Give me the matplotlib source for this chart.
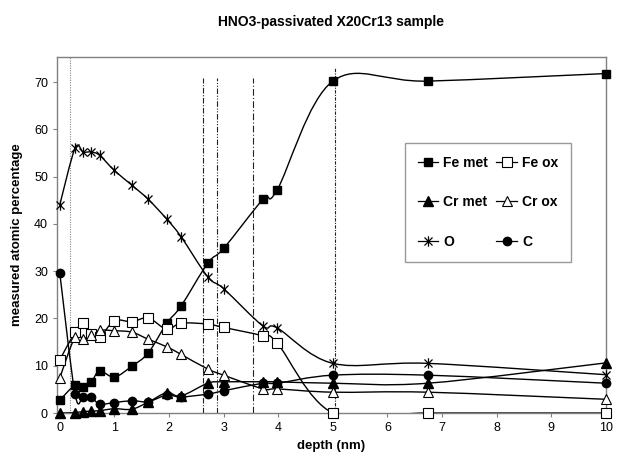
import numpy as np
import matplotlib
matplotlib.use("Agg")
import matplotlib.pyplot as plt
from matplotlib.path import Path
from matplotlib.patches import PathPatch
from matplotlib.lines import Line2D

plt.rcParams['font.family'] = ['Liberation Sans', 'DejaVu Sans']

# depth (nm) of the measurement points, shared by all series
depth = [0, 0.28, 0.43, 0.58, 0.73, 1.0, 1.32, 1.62, 1.96, 2.22, 2.71, 3.0,
         3.72, 3.98, 5.0, 6.74, 10]

fe_met = [2.7, 5.9, 5.5, 6.6, 8.9, 7.6, 9.9, 12.7, 19.0, 22.6, 31.7, 34.8,
          45.2, 47.2, 70.2, 70.2, 71.8]
fe_ox = [11.2, 17.1, 19.0, 16.8, 16.0, 19.5, 19.3, 20.1, 17.7, 19.0, 18.8, 18.1,
         16.3, 14.8, 0.0, 0.0, 0.0]
cr_met = [0.0, 0.1, 0.3, 0.4, 0.5, 0.9, 0.8, 2.3, 4.3, 3.6, 6.3, 6.6,
          6.6, 6.6, 6.3, 6.3, 10.6]
cr_ox = [7.4, 16.1, 15.7, 16.5, 17.5, 17.4, 17.1, 15.6, 14.0, 12.4, 9.3, 8.0,
         5.1, 5.1, 4.4, 4.4, 2.9]
oxygen = [44.0, 56.0, 55.2, 55.2, 54.5, 51.3, 48.2, 45.2, 41.0, 37.3, 28.8, 26.3,
          18.4, 18.0, 10.5, 10.5, 8.1]
carbon = [29.7, 4.0, 3.4, 3.3, 1.9, 2.2, 2.6, 2.4, 3.8, 3.4, 4.0, 4.7,
          6.3, 6.3, 8.0, 8.0, 6.3]

# vertical marker lines: position, top value, dash style
vlines = [(0.18, None, (0, (1, 1.2))),
          (2.62, 70.8, (0, (5, 1.5, 1, 1.5))),
          (2.87, 70.8, (0, (5, 1.5, 1, 1.5, 1, 1.5))),
          (3.53, 70.8, (0, (6, 2, 1, 2))),
          (5.04, 73.0, (0, (3, 1.2, 1, 1.2)))]


def smooth_path(x, y):
    """Excel-like smoothed line: Catmull-Rom turned into cubic Beziers"""
    pts = np.column_stack([x, y]).astype(float)
    verts = [pts[0]]
    codes = [Path.MOVETO]
    n = len(pts)
    for i in range(n - 1):
        p0 = pts[max(i - 1, 0)]
        p1 = pts[i]
        p2 = pts[i + 1]
        p3 = pts[min(i + 2, n - 1)]
        c1 = p1 + (p2 - p0) / 6.0
        c2 = p2 - (p3 - p1) / 6.0
        verts += [c1, c2, p2]
        codes += [Path.CURVE4] * 3
    return Path(verts, codes)


star = Path([(-1, -1), (1, 1), (-1, 1), (1, -1), (0, -1.3), (0, 1.3)],
            [Path.MOVETO, Path.LINETO, Path.MOVETO, Path.LINETO, Path.MOVETO, Path.LINETO])

series = [
    ('Fe met', fe_met, dict(marker='s', mfc='black', mec='black', ms=6)),
    ('Cr met', cr_met, dict(marker='^', mfc='black', mec='black', ms=6.5)),
    ('O', oxygen, dict(marker=star, mfc='none', mec='black', ms=7.5, mew=0.9)),
    ('Fe ox', fe_ox, dict(marker='s', mfc='white', mec='black', ms=6.5, mew=0.8)),
    ('Cr ox', cr_ox, dict(marker='^', mfc='white', mec='black', ms=7, mew=0.8)),
    ('C', carbon, dict(marker='o', mfc='black', mec='black', ms=6)),
]

fig = plt.figure(figsize=(6.26, 4.67), dpi=100)
ax = fig.add_axes([57 / 626, 1 - 413 / 467, 549 / 626, 356 / 467])

for xv, top, ls in vlines:
    if top is None:
        ax.axvline(xv, color='#888888', lw=0.8, linestyle=ls, zorder=1)
    else:
        ax.plot([xv, xv], [0, top], color='#222222', lw=0.8, linestyle=ls, zorder=1)

handles = []
for name, vals, mk in series:
    ax.add_patch(PathPatch(smooth_path(depth, vals), fill=False, ec='black',
                           lw=1.0, zorder=2))
    ax.plot(depth, vals, linestyle='none', zorder=3, clip_on=False, **mk)
    handles.append(Line2D([], [], color='black', lw=0.9, label=name, **mk))

ax.set_xlim(-0.05, 10)
ax.set_ylim(0, 75.3)
ax.set_xticks(range(0, 11))
ax.set_yticks(range(0, 80, 10))
ax.tick_params(labelsize=9, length=3, color='#808080', width=0.8)
for s in ax.spines.values():
    s.set_color('#808080')
    s.set_linewidth(1.0)

ax.set_xlabel('depth (nm)', fontsize=9.5, fontweight='bold', labelpad=4)
ax.set_ylabel('measured atomic percentage', fontsize=9.5, fontweight='bold', labelpad=8)
fig.text(331 / 626, 1 - 22 / 467, 'HNO3-passivated X20Cr13 sample',
         ha='center', va='center', fontsize=10, fontweight='bold')

leg = ax.legend(handles=handles, ncol=2, loc='upper left',
                bbox_to_anchor=(0.634, 0.758), borderaxespad=0,
                prop=dict(size=10, weight='bold'), frameon=True, fancybox=False,
                edgecolor='#808080', handlelength=1.5, handletextpad=0.35,
                columnspacing=0.6, labelspacing=1.85, borderpad=0.9)
leg.get_frame().set_linewidth(1.0)

fig.savefig('out.png', dpi=100)
